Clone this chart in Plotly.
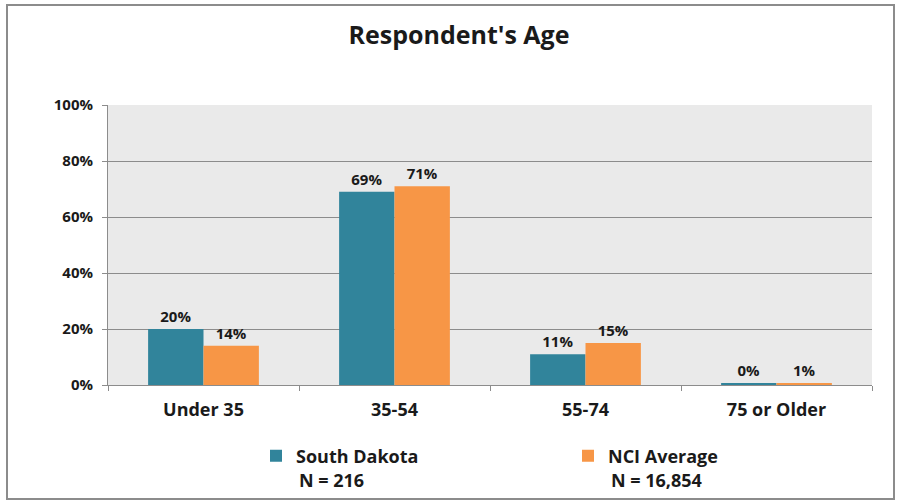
import plotly.graph_objects as go

categories = ["Under 35", "35-54", "55-74", "75 or Older"]
south_dakota = [20, 69, 11, 0.4]
nci_average = [14, 71, 15, 0.6]
sd_labels = ["20%", "69%", "11%", "0%"]
nci_labels = ["14%", "71%", "15%", "1%"]
y_ticks = [0, 20, 40, 60, 80, 100]
y_tick_labels = ["0%", "20%", "40%", "60%", "80%", "100%"]

W, H = 898, 502
L, R, T, B = 108, 26, 105, 117
pw, ph = W - L - R, H - T - B

font_family = "Open Sans"
txt = "#1a1a1a"


def px_x(x):
    return (x - L) / pw


def px_y(y):
    return (H - B - y) / ph


fig = go.Figure()
fig.add_trace(go.Bar(
    x=categories, y=south_dakota, name="South Dakota",
    marker=dict(color="#31849B", line=dict(width=0)),
    text=sd_labels, textposition="outside", cliponaxis=False,
    textfont=dict(family=font_family, size=15, color=txt, weight="bold"),
    legend="legend",
))
fig.add_trace(go.Bar(
    x=categories, y=nci_average, name="NCI Average",
    marker=dict(color="#F79646", line=dict(width=0)),
    text=nci_labels, textposition="outside", cliponaxis=False,
    textfont=dict(family=font_family, size=15, color=txt, weight="bold"),
    legend="legend2",
))

# outer frame
fig.add_shape(type="rect", xref="paper", yref="paper",
              x0=px_x(7), x1=px_x(894), y0=px_y(499), y1=px_y(5),
              line=dict(color="#8c8c8c", width=2), layer="below")

n_font = dict(family=font_family, size=18, color=txt, weight="bold")
fig.add_annotation(text="N = 216", xref="paper", yref="paper",
                   x=px_x(331), y=px_y(480), showarrow=False,
                   xanchor="center", yanchor="middle", font=n_font)
fig.add_annotation(text="N = 16,854", xref="paper", yref="paper",
                   x=px_x(656), y=px_y(480), showarrow=False,
                   xanchor="center", yanchor="middle", font=n_font)

leg_font = dict(family=font_family, size=18, color=txt, weight="bold")

fig.update_layout(
    width=W, height=H,
    margin=dict(l=L, r=R, t=T, b=B),
    paper_bgcolor="white",
    plot_bgcolor="#EAEAEA",
    barmode="group",
    bargap=0.42,
    bargroupgap=0,
    title=dict(text="Respondent's Age", x=459 / W, xref="container", xanchor="center",
               y=1 - 35 / H, yanchor="middle",
               font=dict(family=font_family, size=25, color=txt, weight="bold")),
    legend=dict(orientation="h", x=px_x(256), y=px_y(456), xanchor="left",
                yanchor="middle", font=leg_font, itemwidth=30,
                bgcolor="rgba(0,0,0,0)", itemclick=False),
    legend2=dict(orientation="h", x=px_x(568), y=px_y(456), xanchor="left",
                 yanchor="middle", font=leg_font, itemwidth=30,
                 bgcolor="rgba(0,0,0,0)", itemclick=False),
    xaxis=dict(
        tickson="boundaries", ticks="outside", ticklen=5, tickcolor="#8c8c8c",
        showline=True, linecolor="#8c8c8c", linewidth=1,
        ticklabelstandoff=8,
        tickfont=dict(family=font_family, size=18, color=txt, weight="bold"),
        fixedrange=True,
    ),
    yaxis=dict(
        range=[0, 100], tickvals=y_ticks, ticktext=y_tick_labels,
        ticks="outside", ticklen=5, tickcolor="#8c8c8c",
        showline=True, linecolor="#8c8c8c", linewidth=1,
        showgrid=True, gridcolor="#8c8c8c", gridwidth=1,
        zeroline=False, ticklabelstandoff=6,
        tickfont=dict(family=font_family, size=15, color=txt, weight="bold"),
        fixedrange=True,
    ),
    showlegend=True,
)

fig.write_html("out.html", config={"displayModeBar": False},
               post_script="document.body.style.margin='0';")
